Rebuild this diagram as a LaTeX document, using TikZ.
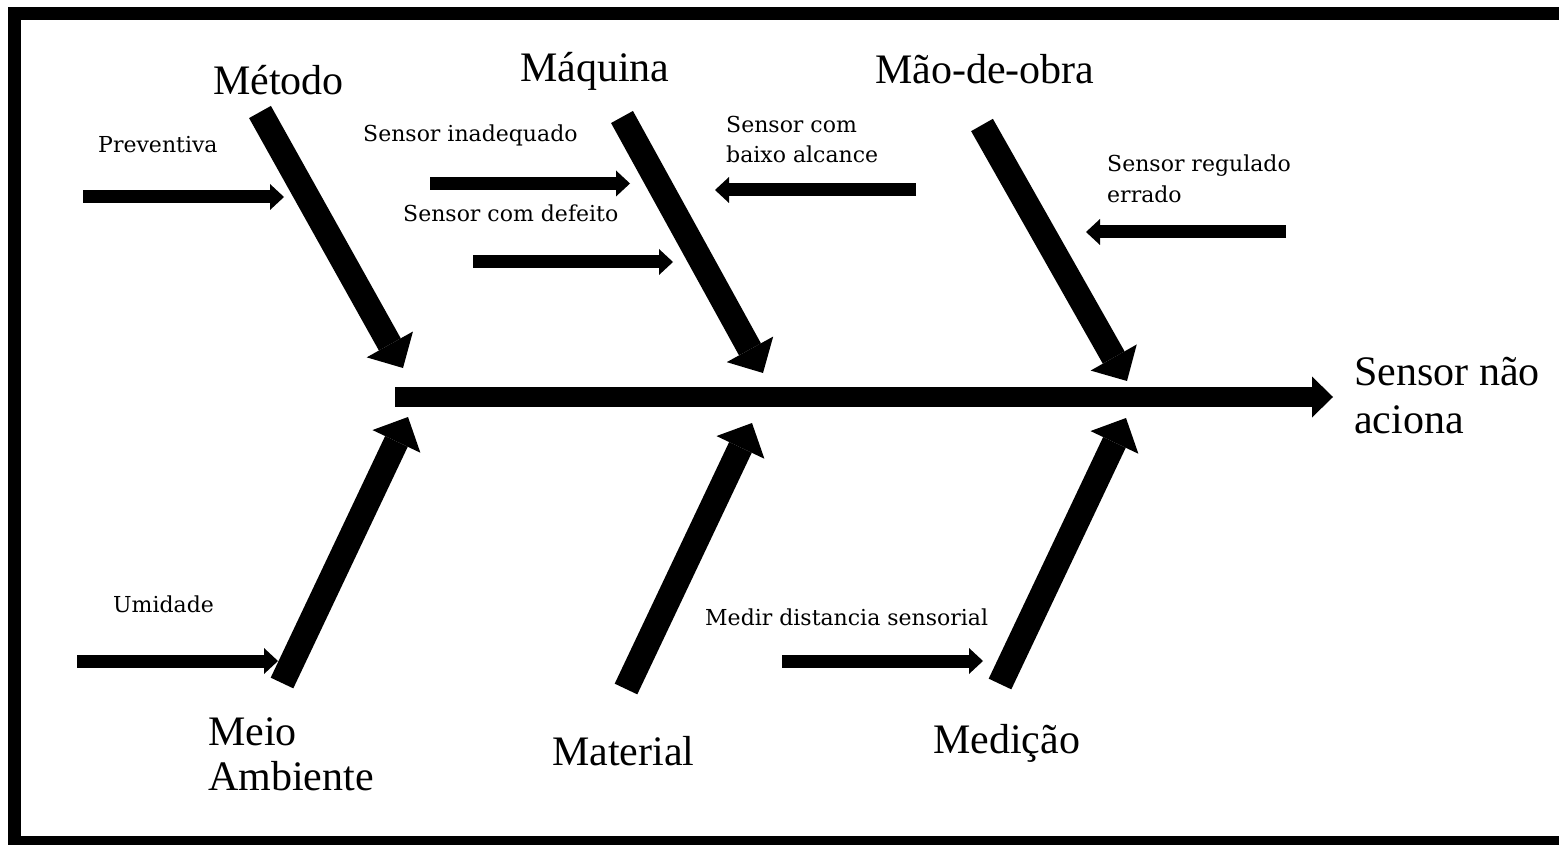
\documentclass[tikz,border=0pt]{standalone}
\usepackage{fontspec}
\setmainfont{Liberation Serif}
\newfontfamily\smallfont{DejaVu Serif}
\usetikzlibrary{arrows.meta}
\begin{document}
\begin{tikzpicture}[x=1pt,y=-1pt,
  bone/.style={line width=25pt,line cap=butt,-{Triangle[length=27pt,width=53pt,line width=0pt]}},
  spine/.style={line width=20pt,line cap=butt,-{Triangle[length=21pt,width=41pt,line width=0pt]}},
  cause/.style={line width=13pt,line cap=butt,-{Triangle[length=14pt,width=26pt,line width=0pt]}},
  big/.style={font=\fontsize{42}{48}\selectfont,inner sep=0pt,anchor=base west},
  small/.style={font=\smallfont\fontsize{22}{31}\selectfont,inner sep=0pt,anchor=base west}]
\useasboundingbox (0,0) rectangle (1559,845);
\clip (0,0) rectangle (1559,845);
\draw[line width=13pt] (14.5,13.5) rectangle (1590,842.5);

% coordinates of the bones
\coordinate (metA) at (260,112);  \coordinate (metB) at (403,368);
\coordinate (maqA) at (622,117);  \coordinate (maqB) at (763,373);
\coordinate (maoA) at (982,125);  \coordinate (maoB) at (1127,381);
\coordinate (meiA) at (282,683);  \coordinate (meiB) at (408,417);
\coordinate (matA) at (626,689);  \coordinate (matB) at (752,423);
\coordinate (medA) at (1000,684); \coordinate (medB) at (1126,418);
\coordinate (spA) at (395,397);   \coordinate (spB) at (1333,397);

\draw[spine] (spA) -- (spB);
\draw[bone] (metA) -- (metB);
\draw[bone] (maqA) -- (maqB);
\draw[bone] (maoA) -- (maoB);
\draw[bone] (meiA) -- (meiB);
\draw[bone] (matA) -- (matB);
\draw[bone] (medA) -- (medB);

% cause arrows
\coordinate (prA) at (83,197);    \coordinate (prB) at (284,197);
\coordinate (inA) at (430,183.5); \coordinate (inB) at (630,183.5);
\coordinate (deA) at (473,262);   \coordinate (deB) at (673,262);
\coordinate (baA) at (916,190);   \coordinate (baB) at (715,190);
\coordinate (reA) at (1286,232);  \coordinate (reB) at (1086,232);
\coordinate (umA) at (77,661);    \coordinate (umB) at (278,661);
\coordinate (msA) at (782,661);   \coordinate (msB) at (983,661);
\draw[cause] (prA) -- (prB);
\draw[cause] (inA) -- (inB);
\draw[cause] (deA) -- (deB);
\draw[cause] (baA) -- (baB);
\draw[cause] (reA) -- (reB);
\draw[cause] (umA) -- (umB);
\draw[cause] (msA) -- (msB);

% category labels
\node[big] (tmet) at (213,95) {Método};
\node[big] (tmaq) at (520,82) {Máquina};
\node[big] (tmao) at (875,84) {Mão-de-obra};
\node[big] (tmei1) at (208,745) {Meio};
\node[big] (tmei2) at (208,790) {Ambiente};
\node[big] (tmat) at (552,765) {Material};
\node[big] (tmed) at (933,753) {Medição};
\node[big] (teff1) at (1354,385) {Sensor não};
\node[big] (teff2) at (1354,433) {aciona};

% cause labels
\node[small] (lpr) at (98,153) {Preventiva};
\node[small] (lin) at (363,142) {Sensor inadequado};
\node[small] (lde) at (403,222) {Sensor com defeito};
\node[small] (lba1) at (726,133) {Sensor com};
\node[small] (lba2) at (726,163) {baixo alcance};
\node[small] (lre1) at (1107,172) {Sensor regulado};
\node[small] (lre2) at (1107,203) {errado};
\node[small] (lum) at (113,612) {Umidade};
\node[small] (lms) at (705,625) {Medir distancia sensorial};
\end{tikzpicture}
\end{document}
